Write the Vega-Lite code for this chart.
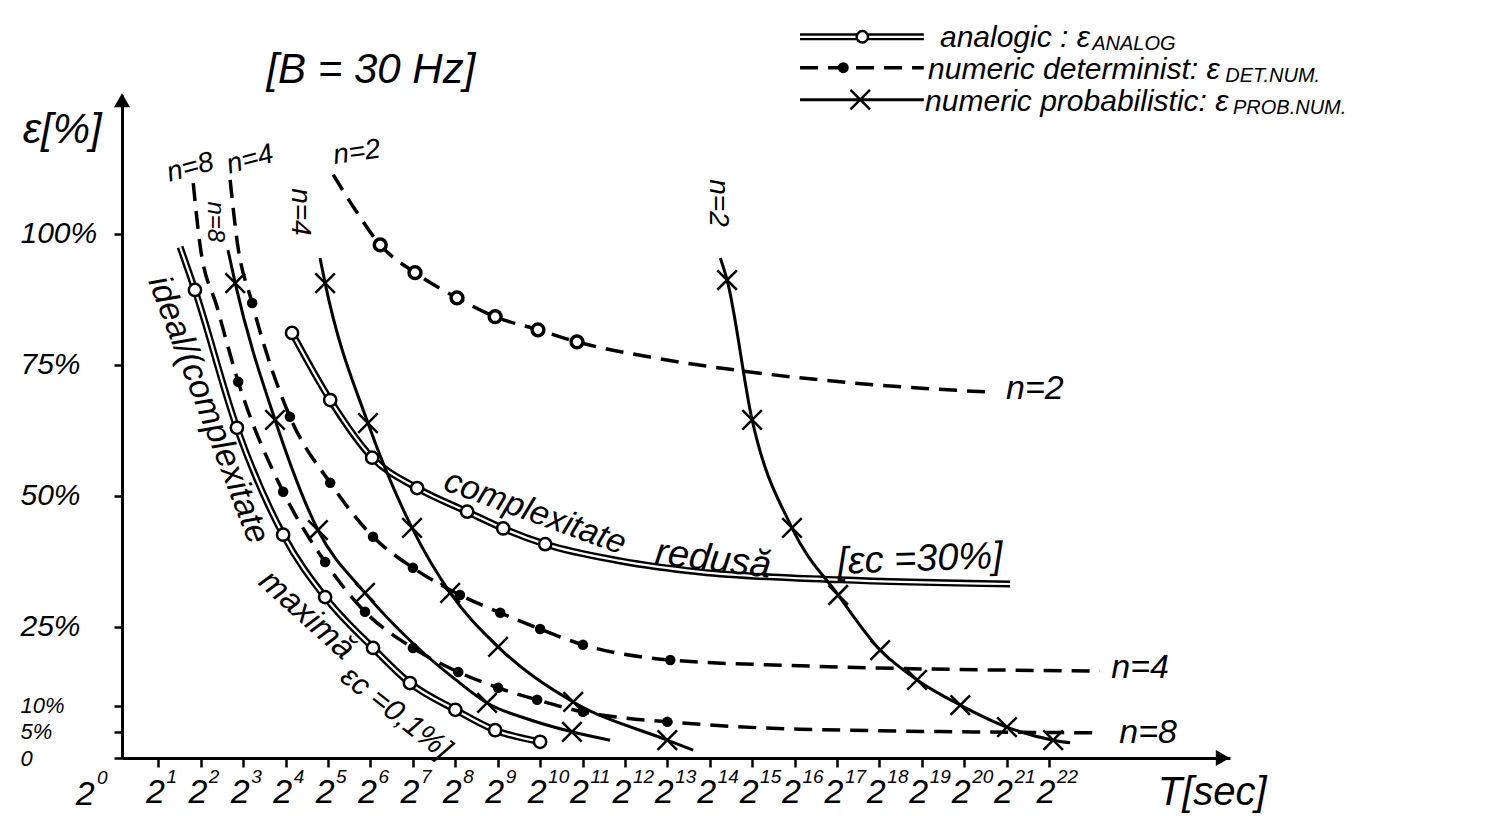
{
"$schema": "https://vega.github.io/schema/vega-lite/v6.json",
"width": 1108, "height": 663,
"autosize": {"type": "none"},
"padding": {"left": 122, "top": 95, "right": 259, "bottom": 58},
"background": "white",
"config": {"view": {"stroke": null}, "text": {"font": "Liberation Sans", "fontStyle": "italic", "fill": "black", "align": "center", "baseline": "middle"}},
"datasets": {
"one": [{}],
"ticks": [{"k":1},{"k":2},{"k":3},{"k":4},{"k":5},{"k":6},{"k":7},{"k":8},{"k":9},{"k":10},{"k":11},{"k":12},{"k":13},{"k":14},{"k":15},{"k":16},{"k":17},{"k":18},{"k":19},{"k":20},{"k":21},{"k":22}],
"curves": [
{"s":"analog_ideal","t":"analogic","e":1.51,"v":97.5,"m":0},
{"s":"analog_ideal","t":"analogic","e":1.86,"v":89.3,"m":1},
{"s":"analog_ideal","t":"analogic","e":2.85,"v":63.0,"m":1},
{"s":"analog_ideal","t":"analogic","e":3.94,"v":42.6,"m":1},
{"s":"analog_ideal","t":"analogic","e":4.93,"v":30.7,"m":1},
{"s":"analog_ideal","t":"analogic","e":6.06,"v":21.0,"m":1},
{"s":"analog_ideal","t":"analogic","e":6.93,"v":14.3,"m":1},
{"s":"analog_ideal","t":"analogic","e":8.0,"v":9.2,"m":1},
{"s":"analog_ideal","t":"analogic","e":8.94,"v":5.3,"m":1},
{"s":"analog_ideal","t":"analogic","e":10.0,"v":3.1,"m":1},
{"s":"analog_red","t":"analogic","e":4.15,"v":81.1,"m":1},
{"s":"analog_red","t":"analogic","e":5.05,"v":68.3,"m":1},
{"s":"analog_red","t":"analogic","e":6.04,"v":57.3,"m":1},
{"s":"analog_red","t":"analogic","e":7.10,"v":51.5,"m":1},
{"s":"analog_red","t":"analogic","e":8.28,"v":47.0,"m":1},
{"s":"analog_red","t":"analogic","e":9.13,"v":43.8,"m":1},
{"s":"analog_red","t":"analogic","e":10.12,"v":40.8,"m":1},
{"s":"analog_red","t":"analogic","e":11.89,"v":37.6,"m":0},
{"s":"analog_red","t":"analogic","e":13.77,"v":35.5,"m":0},
{"s":"analog_red","t":"analogic","e":17.08,"v":34.0,"m":0},
{"s":"analog_red","t":"analogic","e":21.08,"v":33.2,"m":0},
{"s":"det_n2","t":"determinist","e":5.12,"v":111.3,"m":0},
{"s":"det_n2","t":"determinist","e":5.64,"v":104.6,"m":0},
{"s":"det_n2","t":"determinist","e":6.23,"v":97.9,"m":1},
{"s":"det_n2","t":"determinist","e":7.05,"v":92.6,"m":1},
{"s":"det_n2","t":"determinist","e":8.04,"v":87.8,"m":1},
{"s":"det_n2","t":"determinist","e":8.94,"v":84.2,"m":1},
{"s":"det_n2","t":"determinist","e":9.95,"v":81.7,"m":1},
{"s":"det_n2","t":"determinist","e":10.87,"v":79.4,"m":1},
{"s":"det_n2","t":"determinist","e":12.59,"v":76.5,"m":0},
{"s":"det_n2","t":"determinist","e":14.72,"v":73.9,"m":0},
{"s":"det_n2","t":"determinist","e":17.31,"v":71.6,"m":0},
{"s":"det_n2","t":"determinist","e":20.61,"v":69.8,"m":0},
{"s":"det_n4","t":"determinist","e":2.69,"v":110.3,"m":0},
{"s":"det_n4","t":"determinist","e":2.85,"v":98.9,"m":0},
{"s":"det_n4","t":"determinist","e":3.21,"v":86.8,"m":1},
{"s":"det_n4","t":"determinist","e":4.10,"v":65.1,"m":1},
{"s":"det_n4","t":"determinist","e":5.05,"v":52.5,"m":1},
{"s":"det_n4","t":"determinist","e":6.06,"v":42.2,"m":1},
{"s":"det_n4","t":"determinist","e":7.0,"v":36.3,"m":1},
{"s":"det_n4","t":"determinist","e":8.11,"v":31.1,"m":1},
{"s":"det_n4","t":"determinist","e":9.06,"v":27.7,"m":1},
{"s":"det_n4","t":"determinist","e":10.0,"v":24.6,"m":1},
{"s":"det_n4","t":"determinist","e":11.01,"v":21.6,"m":1},
{"s":"det_n4","t":"determinist","e":13.07,"v":18.7,"m":1},
{"s":"det_n4","t":"determinist","e":16.13,"v":17.6,"m":0},
{"s":"det_n4","t":"determinist","e":23.2,"v":16.6,"m":0},
{"s":"det_n8","t":"determinist","e":1.82,"v":109.7,"m":0},
{"s":"det_n8","t":"determinist","e":1.98,"v":97.9,"m":0},
{"s":"det_n8","t":"determinist","e":2.38,"v":86.1,"m":0},
{"s":"det_n8","t":"determinist","e":2.88,"v":71.8,"m":1},
{"s":"det_n8","t":"determinist","e":3.94,"v":50.8,"m":1},
{"s":"det_n8","t":"determinist","e":4.93,"v":37.4,"m":1},
{"s":"det_n8","t":"determinist","e":5.87,"v":27.9,"m":1},
{"s":"det_n8","t":"determinist","e":7.0,"v":21.0,"m":1},
{"s":"det_n8","t":"determinist","e":8.07,"v":16.4,"m":1},
{"s":"det_n8","t":"determinist","e":9.01,"v":13.4,"m":1},
{"s":"det_n8","t":"determinist","e":9.93,"v":11.1,"m":1},
{"s":"det_n8","t":"determinist","e":11.01,"v":8.8,"m":1},
{"s":"det_n8","t":"determinist","e":12.05,"v":7.6,"m":0},
{"s":"det_n8","t":"determinist","e":13.0,"v":6.9,"m":1},
{"s":"det_n8","t":"determinist","e":16.13,"v":5.5,"m":0},
{"s":"det_n8","t":"determinist","e":23.2,"v":4.8,"m":0},
{"s":"prob_n2","t":"probabilistic","e":14.25,"v":95.4,"m":0},
{"s":"prob_n2","t":"probabilistic","e":14.41,"v":91.2,"m":1},
{"s":"prob_n2","t":"probabilistic","e":15.0,"v":64.5,"m":1},
{"s":"prob_n2","t":"probabilistic","e":15.94,"v":43.9,"m":1},
{"s":"prob_n2","t":"probabilistic","e":17.03,"v":31.1,"m":1},
{"s":"prob_n2","t":"probabilistic","e":18.02,"v":20.6,"m":1},
{"s":"prob_n2","t":"probabilistic","e":18.89,"v":14.9,"m":1},
{"s":"prob_n2","t":"probabilistic","e":19.91,"v":10.1,"m":1},
{"s":"prob_n2","t":"probabilistic","e":21.01,"v":5.9,"m":1},
{"s":"prob_n2","t":"probabilistic","e":22.1,"v":3.4,"m":1},
{"s":"prob_n2","t":"probabilistic","e":22.5,"v":2.9,"m":0},
{"s":"prob_n4","t":"probabilistic","e":4.81,"v":95.4,"m":0},
{"s":"prob_n4","t":"probabilistic","e":4.93,"v":90.6,"m":1},
{"s":"prob_n4","t":"probabilistic","e":5.94,"v":63.9,"m":1},
{"s":"prob_n4","t":"probabilistic","e":6.98,"v":43.9,"m":1},
{"s":"prob_n4","t":"probabilistic","e":7.88,"v":31.5,"m":1},
{"s":"prob_n4","t":"probabilistic","e":9.01,"v":21.2,"m":1},
{"s":"prob_n4","t":"probabilistic","e":10.78,"v":10.7,"m":1},
{"s":"prob_n4","t":"probabilistic","e":13.0,"v":3.4,"m":1},
{"s":"prob_n4","t":"probabilistic","e":13.61,"v":1.5,"m":0},
{"s":"prob_n8","t":"probabilistic","e":2.64,"v":96.9,"m":0},
{"s":"prob_n8","t":"probabilistic","e":2.81,"v":90.6,"m":1},
{"s":"prob_n8","t":"probabilistic","e":3.75,"v":64.5,"m":1},
{"s":"prob_n8","t":"probabilistic","e":4.76,"v":43.5,"m":1},
{"s":"prob_n8","t":"probabilistic","e":5.87,"v":31.5,"m":1},
{"s":"prob_n8","t":"probabilistic","e":7.0,"v":21.9,"m":0},
{"s":"prob_n8","t":"probabilistic","e":8.0,"v":15.0,"m":0},
{"s":"prob_n8","t":"probabilistic","e":8.75,"v":10.5,"m":1},
{"s":"prob_n8","t":"probabilistic","e":9.76,"v":7.3,"m":0},
{"s":"prob_n8","t":"probabilistic","e":10.75,"v":5.0,"m":1},
{"s":"prob_n8","t":"probabilistic","e":11.65,"v":3.4,"m":0}
]
},
"layer": [
{"data": {"name": "curves"}, "transform": [{"filter": "datum.t == 'analogic'"}],
 "mark": {"type": "line", "stroke": "black", "strokeWidth": 7, "interpolate": "monotone"},
 "encoding": {
  "x": {"field": "e", "type": "quantitative", "scale": {"domain": [0.14, 26.27], "nice": false, "zero": false},
   "axis": {"values": [1,2,3,4,5,6,7,8,9,10,11,12,13,14,15,16,17,18,19,20,21,22], "labels": false,
    "title": null, "grid": false, "domainColor": "black", "domainWidth": 3, "tickColor": "black", "tickWidth": 2.5, "tickSize": 9}},
  "y": {"field": "v", "type": "quantitative", "scale": {"domain": [0, 126.5], "nice": false, "zero": false},
   "axis": {"values": [0,5,10,25,50,75,100], "labelExpr": "datum.value == 0 ? '0' : datum.value + '%'",
    "title": null, "grid": false, "domainColor": "black", "domainWidth": 3, "tickColor": "black", "tickWidth": 2.5, "tickSize": 8,
    "labelFont": "Liberation Sans", "labelFontStyle": "italic",
    "labelFontSize": {"condition": {"test": "datum.value <= 10", "value": 22}, "value": 30}, "labelColor": "black",
    "labelAlign": "left", "labelPadding": 94, "labelOverlap": false, "labelFlush": false, "labelBound": false}},
  "detail": {"field": "s"}}},
{"data": {"name": "curves"}, "transform": [{"filter": "datum.t == 'analogic'"}],
 "mark": {"type": "line", "stroke": "white", "strokeWidth": 2.2, "interpolate": "monotone"},
 "encoding": {"x": {"field": "e", "type": "quantitative"}, "y": {"field": "v", "type": "quantitative"}, "detail": {"field": "s"}}},
{"data": {"name": "curves"}, "transform": [{"filter": "datum.t == 'determinist'"}],
 "mark": {"type": "line", "stroke": "black", "strokeWidth": 3.5, "strokeDash": [18, 10], "interpolate": "monotone"},
 "encoding": {"x": {"field": "e", "type": "quantitative"}, "y": {"field": "v", "type": "quantitative"}, "detail": {"field": "s"}}},
{"data": {"name": "curves"}, "transform": [{"filter": "datum.t == 'probabilistic'"}],
 "mark": {"type": "line", "stroke": "black", "strokeWidth": 3, "interpolate": "monotone"},
 "encoding": {"x": {"field": "e", "type": "quantitative"}, "y": {"field": "v", "type": "quantitative"}, "detail": {"field": "s"}}},
{"data": {"name": "curves"}, "transform": [{"filter": "datum.t == 'analogic' && datum.m == 1"}],
 "mark": {"type": "point", "shape": "circle", "filled": true, "fill": "white", "stroke": "black", "strokeWidth": 2.5, "size": 150, "opacity": 1},
 "encoding": {"x": {"field": "e", "type": "quantitative"}, "y": {"field": "v", "type": "quantitative"}}},
{"data": {"name": "curves"}, "transform": [{"filter": "datum.s == 'det_n2' && datum.m == 1"}],
 "mark": {"type": "point", "shape": "circle", "filled": true, "fill": "white", "stroke": "black", "strokeWidth": 3.5, "size": 140, "opacity": 1},
 "encoding": {"x": {"field": "e", "type": "quantitative"}, "y": {"field": "v", "type": "quantitative"}}},
{"data": {"name": "curves"}, "transform": [{"filter": "datum.t == 'determinist' && datum.s != 'det_n2' && datum.m == 1"}],
 "mark": {"type": "point", "shape": "circle", "filled": true, "fill": "black", "size": 110, "opacity": 1},
 "encoding": {"x": {"field": "e", "type": "quantitative"}, "y": {"field": "v", "type": "quantitative"}}},
{"data": {"name": "curves"}, "transform": [{"filter": "datum.t == 'probabilistic' && datum.m == 1"}],
 "mark": {"type": "point", "shape": "M-1,-1L1,1M-1,1L1,-1", "filled": false, "stroke": "black", "strokeWidth": 2.5, "size": 380, "opacity": 1},
 "encoding": {"x": {"field": "e", "type": "quantitative"}, "y": {"field": "v", "type": "quantitative"}}},
{"data": {"name": "ticks"}, "mark": {"type": "text", "text": "2", "fontSize": 34, "dx": -3},
 "encoding": {"x": {"field": "k", "type": "quantitative"}, "y": {"datum": -6.7, "type": "quantitative"}}},
{"data": {"name": "ticks"}, "mark": {"type": "text", "fontSize": 19, "align": "left", "dx": 8},
 "encoding": {"x": {"field": "k", "type": "quantitative"}, "y": {"datum": -3.6, "type": "quantitative"}, "text": {"field": "k", "type": "nominal"}}},
{"data": {"name": "one"}, "mark": {"type": "text", "text": "2", "fontSize": 34},
 "encoding": {"x": {"datum": -0.73, "type": "quantitative"}, "y": {"datum": -7.0, "type": "quantitative"}}},
{"data": {"name": "one"}, "mark": {"type": "text", "text": "0", "fontSize": 19, "align": "left"},
 "encoding": {"x": {"datum": -0.45, "type": "quantitative"}, "y": {"datum": -3.9, "type": "quantitative"}}},
{"data": {"name": "one"}, "mark": {"type": "point", "shape": "triangle-up", "filled": true, "fill": "black", "size": 260, "opacity": 1},
 "encoding": {"x": {"datum": 0.14, "type": "quantitative"}, "y": {"datum": 125.5, "type": "quantitative"}}},
{"data": {"name": "one"}, "mark": {"type": "point", "shape": "triangle-right", "filled": true, "fill": "black", "size": 260, "opacity": 1},
 "encoding": {"x": {"datum": 26.1, "type": "quantitative"}, "y": {"datum": 0, "type": "quantitative"}}},
{"data": {"name": "one"}, "mark": {"type": "rule", "stroke": "black", "strokeWidth": 7},
 "encoding": {"x": {"datum": 16.13, "type": "quantitative"}, "x2": {"datum": 19.05}, "y": {"datum": 137.6, "type": "quantitative"}}},
{"data": {"name": "one"}, "mark": {"type": "rule", "stroke": "white", "strokeWidth": 2.2},
 "encoding": {"x": {"datum": 16.13, "type": "quantitative"}, "x2": {"datum": 19.05}, "y": {"datum": 137.6, "type": "quantitative"}}},
{"data": {"name": "one"}, "mark": {"type": "point", "shape": "circle", "filled": true, "fill": "white", "stroke": "black", "strokeWidth": 2.5, "size": 130, "opacity": 1},
 "encoding": {"x": {"datum": 17.6, "type": "quantitative"}, "y": {"datum": 137.6, "type": "quantitative"}}},
{"data": {"name": "one"}, "mark": {"type": "rule", "stroke": "black", "strokeWidth": 3.5, "strokeDash": [18, 10]},
 "encoding": {"x": {"datum": 16.13, "type": "quantitative"}, "x2": {"datum": 19.05}, "y": {"datum": 131.7, "type": "quantitative"}}},
{"data": {"name": "one"}, "mark": {"type": "point", "shape": "circle", "filled": true, "fill": "black", "size": 120, "opacity": 1},
 "encoding": {"x": {"datum": 17.15, "type": "quantitative"}, "y": {"datum": 131.7, "type": "quantitative"}}},
{"data": {"name": "one"}, "mark": {"type": "rule", "stroke": "black", "strokeWidth": 3},
 "encoding": {"x": {"datum": 16.13, "type": "quantitative"}, "x2": {"datum": 19.05}, "y": {"datum": 125.6, "type": "quantitative"}}},
{"data": {"name": "one"}, "mark": {"type": "point", "shape": "M-1,-1L1,1M-1,1L1,-1", "filled": false, "stroke": "black", "strokeWidth": 2.5, "size": 380, "opacity": 1},
 "encoding": {"x": {"datum": 17.55, "type": "quantitative"}, "y": {"datum": 125.6, "type": "quantitative"}}},
{"data": {"name": "one"}, "mark": {"type": "text", "text": "analogic : ε", "fontSize": 30, "align": "left"},
 "encoding": {"x": {"datum": 19.43, "type": "quantitative"}, "y": {"datum": 137.4, "type": "quantitative"}}},
{"data": {"name": "one"}, "mark": {"type": "text", "text": "ANALOG", "fontSize": 20, "align": "left"},
 "encoding": {"x": {"datum": 23.02, "type": "quantitative"}, "y": {"datum": 136.3, "type": "quantitative"}}},
{"data": {"name": "one"}, "mark": {"type": "text", "text": "numeric determinist: ε", "fontSize": 30, "align": "left"},
 "encoding": {"x": {"datum": 19.15, "type": "quantitative"}, "y": {"datum": 131.3, "type": "quantitative"}}},
{"data": {"name": "one"}, "mark": {"type": "text", "text": "DET.NUM.", "fontSize": 20, "align": "left"},
 "encoding": {"x": {"datum": 26.16, "type": "quantitative"}, "y": {"datum": 130.2, "type": "quantitative"}}},
{"data": {"name": "one"}, "mark": {"type": "text", "text": "numeric probabilistic: ε", "fontSize": 30, "align": "left"},
 "encoding": {"x": {"datum": 19.08, "type": "quantitative"}, "y": {"datum": 125.2, "type": "quantitative"}}},
{"data": {"name": "one"}, "mark": {"type": "text", "text": "PROB.NUM.", "fontSize": 20, "align": "left"},
 "encoding": {"x": {"datum": 26.34, "type": "quantitative"}, "y": {"datum": 124.0, "type": "quantitative"}}},
{"data": {"name": "one"}, "mark": {"type": "text", "text": "[B = 30 Hz]", "fontSize": 42},
 "encoding": {"x": {"datum": 6.01, "type": "quantitative"}, "y": {"datum": 131.3, "type": "quantitative"}}},
{"data": {"name": "one"}, "mark": {"type": "text", "text": "ε[%]", "fontSize": 42},
 "encoding": {"x": {"datum": -1.27, "type": "quantitative"}, "y": {"datum": 119.8, "type": "quantitative"}}},
{"data": {"name": "one"}, "mark": {"type": "text", "text": "T[sec]", "fontSize": 40},
 "encoding": {"x": {"datum": 25.85, "type": "quantitative"}, "y": {"datum": -6.7, "type": "quantitative"}}},
{"data": {"name": "one"}, "mark": {"type": "text", "text": "n=8", "fontSize": 28, "angle": 345},
 "encoding": {"x": {"datum": 1.75, "type": "quantitative"}, "y": {"datum": 112.6, "type": "quantitative"}}},
{"data": {"name": "one"}, "mark": {"type": "text", "text": "n=4", "fontSize": 28, "angle": 345},
 "encoding": {"x": {"datum": 3.16, "type": "quantitative"}, "y": {"datum": 114.1, "type": "quantitative"}}},
{"data": {"name": "one"}, "mark": {"type": "text", "text": "n=2", "fontSize": 28, "angle": 352},
 "encoding": {"x": {"datum": 5.68, "type": "quantitative"}, "y": {"datum": 115.5, "type": "quantitative"}}},
{"data": {"name": "one"}, "mark": {"type": "text", "text": "n=8", "fontSize": 24, "angle": 90},
 "encoding": {"x": {"datum": 2.33, "type": "quantitative"}, "y": {"datum": 102.3, "type": "quantitative"}}},
{"data": {"name": "one"}, "mark": {"type": "text", "text": "n=4", "fontSize": 28, "angle": 90},
 "encoding": {"x": {"datum": 4.34, "type": "quantitative"}, "y": {"datum": 104.2, "type": "quantitative"}}},
{"data": {"name": "one"}, "mark": {"type": "text", "text": "n=2", "fontSize": 28, "angle": 90},
 "encoding": {"x": {"datum": 14.2, "type": "quantitative"}, "y": {"datum": 105.9, "type": "quantitative"}}},
{"data": {"name": "one"}, "mark": {"type": "text", "text": "n=2", "fontSize": 34},
 "encoding": {"x": {"datum": 21.67, "type": "quantitative"}, "y": {"datum": 70.4, "type": "quantitative"}}},
{"data": {"name": "one"}, "mark": {"type": "text", "text": "n=4", "fontSize": 34},
 "encoding": {"x": {"datum": 24.15, "type": "quantitative"}, "y": {"datum": 17.2, "type": "quantitative"}}},
{"data": {"name": "one"}, "mark": {"type": "text", "text": "n=8", "fontSize": 34},
 "encoding": {"x": {"datum": 24.34, "type": "quantitative"}, "y": {"datum": 4.8, "type": "quantitative"}}},
{"data": {"name": "one"}, "mark": {"type": "text", "text": "complexitate", "fontSize": 34, "angle": 20},
 "encoding": {"x": {"datum": 9.88, "type": "quantitative"}, "y": {"datum": 46.8, "type": "quantitative"}}},
{"data": {"name": "one"}, "mark": {"type": "text", "text": "redusă", "fontSize": 38, "angle": 7},
 "encoding": {"x": {"datum": 14.08, "type": "quantitative"}, "y": {"datum": 37.8, "type": "quantitative"}}},
{"data": {"name": "one"}, "mark": {"type": "text", "text": "[εc =30%]", "fontSize": 38, "angle": 358},
 "encoding": {"x": {"datum": 18.96, "type": "quantitative"}, "y": {"datum": 37.8, "type": "quantitative"}}},
{"data": {"name": "one"}, "mark": {"type": "text", "text": "ideal/(complexitate", "fontSize": 34, "angle": 69},
 "encoding": {"x": {"datum": 2.17, "type": "quantitative"}, "y": {"datum": 66.4, "type": "quantitative"}}},
{"data": {"name": "one"}, "mark": {"type": "text", "text": "maximă", "fontSize": 33, "angle": 42},
 "encoding": {"x": {"datum": 4.5, "type": "quantitative"}, "y": {"datum": 27.3, "type": "quantitative"}}},
{"data": {"name": "one"}, "mark": {"type": "text", "text": "εc =0,1%]", "fontSize": 30, "angle": 38},
 "encoding": {"x": {"datum": 6.6, "type": "quantitative"}, "y": {"datum": 8.6, "type": "quantitative"}}}
]
}
